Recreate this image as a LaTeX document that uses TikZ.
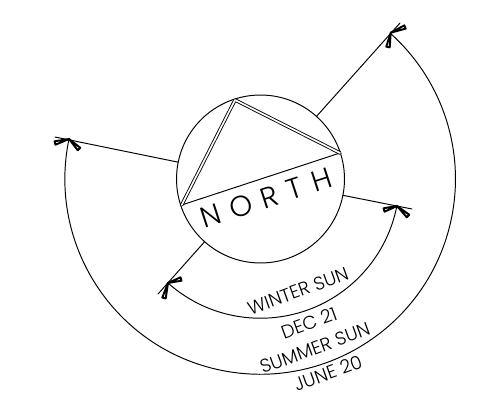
\documentclass[tikz,border=0pt]{standalone}
\usepackage{fontspec}
\setmainfont{Poppins Light}
\usetikzlibrary{calc}

\begin{document}
\begin{tikzpicture}[
  x=0.02cm, y=0.02cm,
  line cap=round, line join=round,
  line width=0.55pt,
  dial/.style={circle, draw, minimum size=3.36cm, inner sep=0pt, outer sep=0pt},
  wedge/.style={line width=1.1pt, fill=white},
  wall/.style={double, double distance=0.95pt, line width=0.5pt},
  biglabel/.style={font=\fontsize{16.5}{17}\selectfont\addfontfeatures{LetterSpace=36}, rotate=18, inner sep=0pt},
  sunlabel/.style={font=\fontsize{10.6}{11}\selectfont, rotate=20, inner sep=0pt},
]
\useasboundingbox (0,0) rectangle (486,393);
% ---- site circle and lot
\node[dial] (site) at (260.5,214) {};
\coordinate (lotW) at (181.7,188);
\coordinate (lotN) at (235,293);
\coordinate (lotE) at (340,240);
\draw (lotW) -- (lotE);
\draw[wall] (lotW) -- (lotN) -- (lotE);
\node[biglabel] (north) at (266,195) {NORTH};
% ---- sun rays
\coordinate (summerA) at (55,256);
\coordinate (summerB) at (400,370);
\coordinate (winterA) at (158,99);
\coordinate (winterB) at (412,184);
\draw (site) -- (summerA);
\draw (site) -- (summerB);
\draw (site) -- (winterA);
\draw (site) -- (winterB);
% ---- sweeps (sunrise to sunset)
\coordinate (sumV) at (69,254);
\coordinate (sumU) at (390.7,360.3);
\coordinate (winV) at (168,110);
\coordinate (winU) at (397,187);
\draw (sumV) arc[start angle=168.2, end angle=408.2, radius=195.3];
\draw (winV) arc[start angle=228.3, end angle=348.8, radius=139];
% ---- ticks where sweep meets ray
\foreach \v/\tx/\ty in {sumV/55/250, sumV/79/244, sumU/405/366, sumU/388/346,
                        winV/164/95, winV/181/114, winU/384/183, winU/408/177}
  \draw[wedge] (\v) -- ($(\tx,\ty)!1pt!90:(\v)$) -- ($(\tx,\ty)!1pt!-90:(\v)$) -- cycle;
% ---- labels
\node[sunlabel] (winter) at (298,102) {WINTER SUN};
\node[sunlabel] (dec) at (309,70) {DEC 21};
\node[sunlabel] (summer) at (315,45) {SUMMER SUN};
\node[sunlabel] (june) at (328,20) {JUNE 20};
\end{tikzpicture}
\end{document}
